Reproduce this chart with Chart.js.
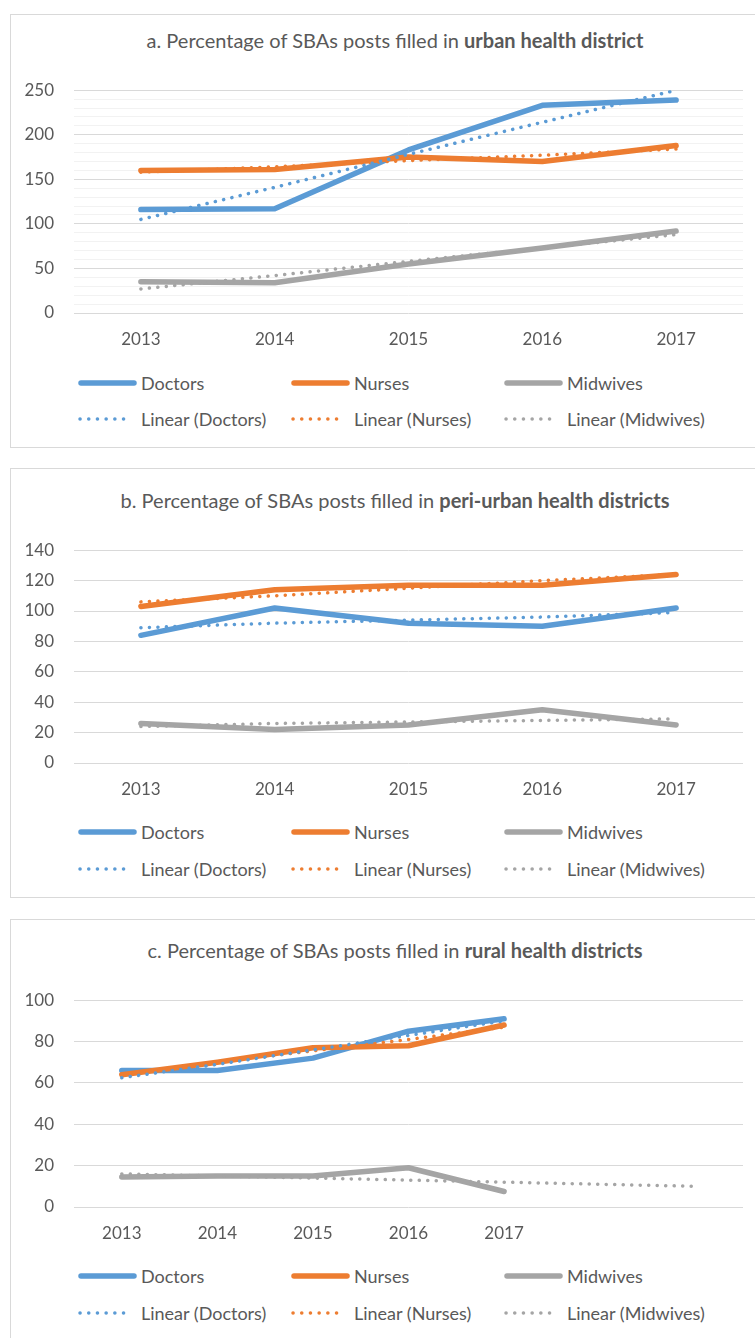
<!DOCTYPE html>
<html>
<head>
<meta charset="utf-8">
<script src="https://cdn.jsdelivr.net/npm/chart.js@4.4.1/dist/chart.umd.min.js"></script>
<style>
    html, body {
        margin: 0;
        padding: 0;
        background: #ffffff;
        width: 755px;
        height: 1338px;
        overflow: hidden;
        position: relative;
        font-family: Lato, "Open Sans", sans-serif;
        color: #595959;
    }
    .panel {
        position: absolute;
        left: 10px;
        width: 780px;
        border: 1px solid #d9d9d9;
        box-sizing: border-box;
    }
    .title {
        position: absolute;
        left: 10px;
        width: 770px;
        text-align: center;
        font-size: 20px;
        line-height: 26px;
        white-space: nowrap;
    }
    .title b {
        font-weight: 700;
    }
    canvas {
        position: absolute;
        left: 0;
    }
    .legend-item {
        position: absolute;
        height: 24px;
        font-size: 18px;
        line-height: 24px;
        white-space: nowrap;
    }
    .legend-item svg {
        position: absolute;
        left: 0;
        top: 0;
    }
    .legend-item span {
        position: absolute;
        left: 63px;
        top: 0;
    }
</style>
</head>
<body>

<div class="panel" style="top:14px;height:434px"></div>
<div class="panel" style="top:468px;height:430px"></div>
<div class="panel" style="top:919px;height:440px"></div>

<div class="title" style="top:27px">a. Percentage of SBAs posts filled in <b>urban health district</b></div>
<div class="title" style="top:487px">b. Percentage of SBAs posts filled in <b>peri-urban health districts</b></div>
<div class="title" style="top:937px">c. Percentage of SBAs posts filled in <b>rural health districts</b></div>

<canvas id="urban-chart"></canvas>
<canvas id="peri-urban-chart"></canvas>
<canvas id="rural-chart"></canvas>

<div id="legends"></div>

<script>
// SBA posts filled, by health district type

// Categories
const years = ['2013', '2014', '2015', '2016', '2017'];
const ruralYears = ['2013', '2014', '2015', '2016', '2017', '', ''];

// a. urban
const urbanDoctors = [116, 117, 183, 233, 239];
const urbanNurses = [160, 161, 175, 170, 188];
const urbanMidwives = [35, 34, 55, 73, 92];
const urbanDoctorsTrend = [105, 141, 178, 214, 250];
const urbanNursesTrend = [158, 164, 171, 177, 184];
const urbanMidwivesTrend = [27, 42, 58, 73, 88];

// b. peri-urban
const periDoctors = [84, 102, 92, 90, 102];
const periNurses = [103, 114, 117, 117, 124];
const periMidwives = [26, 22, 25, 35, 25];
const periDoctorsTrend = [89, 92, 94, 96, 99];
const periNursesTrend = [106, 110, 115, 120, 124];
const periMidwivesTrend = [24, 26, 27, 28, 29];

// c. rural (midwives trend forecast 2 periods forward)
const ruralDoctors = [66, 66, 72, 85, 91];
const ruralNurses = [64, 70, 77, 78, 88];
const ruralMidwives = [14.5, 15, 15, 19, 7.5];
const ruralDoctorsTrend = [62.5, 69, 76, 83, 90];
const ruralNursesTrend = [64, 70, 75.5, 81, 87];
const ruralMidwivesTrend = [16, 15, 14, 13, 12, 11, 10];

// Y axis ticks
const urbanAxis = { max: 250, major: 50, minor: 10 };
const periAxis = { max: 140, major: 20, minor: 20 };
const ruralAxis = { max: 100, major: 20, minor: 20 };

const seriesNames = ['Doctors', 'Nurses', 'Midwives'];
const trendNames = ['Linear (Doctors)', 'Linear (Nurses)', 'Linear (Midwives)'];
const seriesColors = ['#5b9bd5', '#ed7d31', '#a5a5a5'];

const textColor = '#595959';
const tickFont = { family: 'Lato', size: 17 };

document.addEventListener('DOMContentLoaded', () => {
    createPanelChart('urban-chart', years,
        [urbanDoctors, urbanNurses, urbanMidwives],
        [urbanDoctorsTrend, urbanNursesTrend, urbanMidwivesTrend],
        urbanAxis, 80, 313);
    createPanelChart('peri-urban-chart', years,
        [periDoctors, periNurses, periMidwives],
        [periDoctorsTrend, periNursesTrend, periMidwivesTrend],
        periAxis, 540, 763);
    createPanelChart('rural-chart', ruralYears,
        [ruralDoctors, ruralNurses, ruralMidwives],
        [ruralDoctorsTrend, ruralNursesTrend, ruralMidwivesTrend],
        ruralAxis, 990, 1207);

    createLegend(383, 419);
    createLegend(832, 869);
    createLegend(1276, 1313);
});

/**
 * Build one panel chart so that its plot area lands between plotTop and plotBottom
 */
function createPanelChart(canvasId, labels, series, trends, axis, plotTop, plotBottom) {
    const canvas = document.getElementById(canvasId);
    const topPad = 20;
    const bottomSpace = 50;
    const xAxisHeight = 42;
    canvas.width = 755;
    canvas.height = plotBottom - plotTop + topPad + bottomSpace;
    canvas.style.top = (plotTop - topPad) + 'px';

    const datasets = [];

    // trendlines on top of the series
    trends.forEach((values, i) => {
        datasets.push({
            label: trendNames[i],
            data: values,
            borderColor: seriesColors[i],
            borderWidth: 3.5,
            borderDash: [0.1, 8.4],
            borderCapStyle: 'round',
            pointRadius: 0,
            order: 0
        });
    });

    series.forEach((values, i) => {
        datasets.push({
            label: seriesNames[i],
            data: values,
            borderColor: seriesColors[i],
            borderWidth: 5.5,
            borderCapStyle: 'round',
            borderJoinStyle: 'round',
            pointRadius: 0,
            order: 3 - i
        });
    });

    return new Chart(canvas.getContext('2d'), {
        type: 'line',
        data: {
            labels: labels,
            datasets: datasets
        },
        options: {
            responsive: false,
            animation: false,
            devicePixelRatio: 1,
            layout: {
                padding: { top: topPad, right: 12, bottom: bottomSpace - xAxisHeight, left: 0 }
            },
            plugins: {
                legend: { display: false },
                title: { display: false },
                tooltip: { enabled: false }
            },
            scales: {
                x: {
                    offset: true,
                    grid: { display: false, drawTicks: false },
                    border: { display: false },
                    ticks: {
                        color: textColor,
                        font: tickFont,
                        padding: 16,
                        maxRotation: 0,
                        autoSkip: false
                    },
                    afterFit: scale => { scale.height = xAxisHeight; }
                },
                y: {
                    min: 0,
                    max: axis.max,
                    border: { display: false },
                    grid: {
                        drawTicks: false,
                        lineWidth: 1,
                        color: ctx => (ctx.tick && ctx.tick.value % axis.major === 0) ? '#d9d9d9' : '#f2f2f2'
                    },
                    ticks: {
                        stepSize: axis.minor,
                        autoSkip: false,
                        color: textColor,
                        font: tickFont,
                        padding: 20,
                        callback: value => (value % axis.major === 0 ? value : '')
                    },
                    afterFit: scale => { scale.width = 74; }
                }
            }
        }
    });
}

/**
 * Two-row legend under a panel, solid series then their linear trendlines
 */
function createLegend(row1, row2) {
    const container = document.getElementById('legends');
    const columns = [78, 291, 504];

    seriesNames.forEach((name, i) => {
        container.appendChild(legendItem(columns[i], row1, name, seriesColors[i], false));
        container.appendChild(legendItem(columns[i], row2, trendNames[i], seriesColors[i], true));
    });
}

function legendItem(x, y, text, color, dotted) {
    const item = document.createElement('div');
    item.className = 'legend-item';
    item.style.left = x + 'px';
    item.style.top = (y - 12) + 'px';

    const line = dotted
        ? `<line x1="2" y1="12" x2="54" y2="12" stroke="${color}" stroke-width="3.5" stroke-linecap="round" stroke-dasharray="0.1 8.6"/>`
        : `<line x1="3" y1="12" x2="56" y2="12" stroke="${color}" stroke-width="5.5" stroke-linecap="round"/>`;

    item.innerHTML = `<svg width="60" height="24">${line}</svg><span>${text}</span>`;
    return item;
}
</script>
</body>
</html>
